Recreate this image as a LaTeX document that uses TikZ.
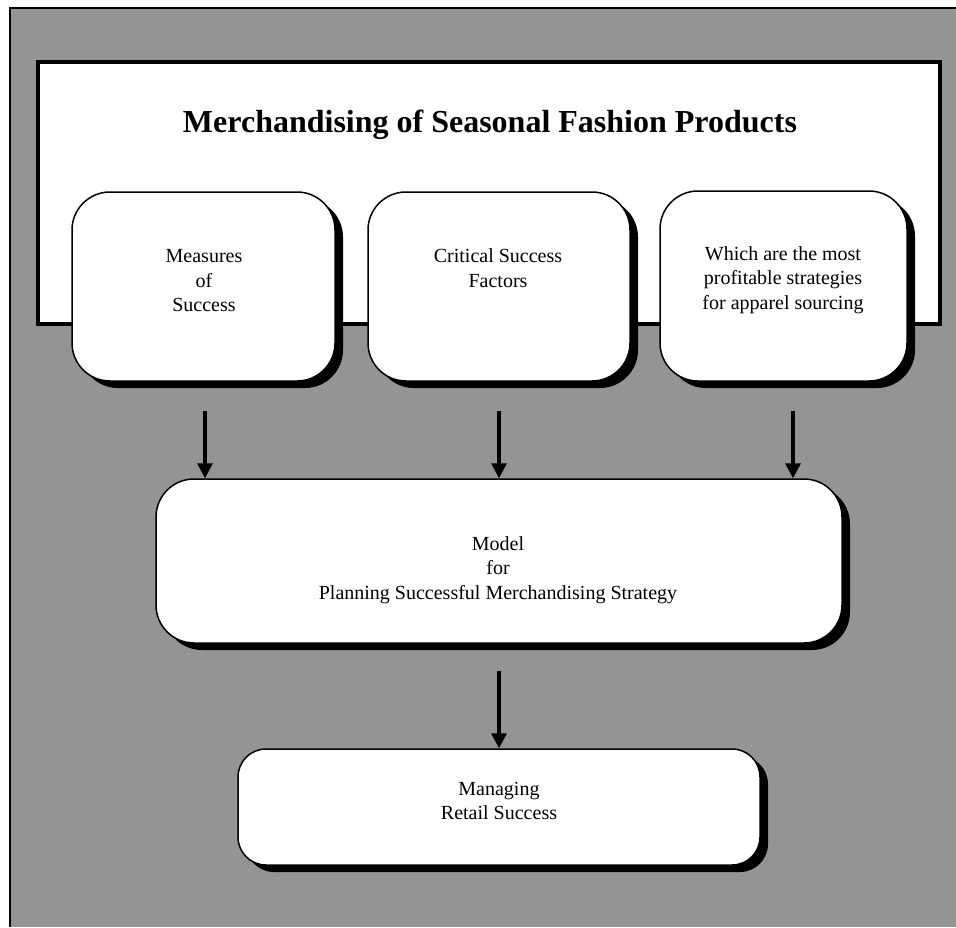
\documentclass[tikz,border=0pt]{standalone}
\usepackage{fontspec}
\setmainfont{Liberation Serif}
\usetikzlibrary{shadows,calc,arrows.meta}
\definecolor{panelgray}{RGB}{148,148,148}
\tikzset{
  roundbox/.style={draw=black, line width=1.5pt, fill=white, rounded corners=38pt,
    drop shadow={shadow xshift=8pt, shadow yshift=-7pt, fill=black, opacity=1},
    inner sep=0pt},
  boxtext/.style={font=\fontsize{20}{24.5}\selectfont, align=center, inner sep=0pt},
  flow/.style={line width=3.4pt, -{Triangle[length=15pt,width=15pt]}},
}
\begin{document}
\begin{tikzpicture}[x=1pt,y=-1pt]
\useasboundingbox (0,0) rectangle (956,927);
% grey panel with its frame on the left and top
\fill[panelgray] (10,8) rectangle (956,927);
\draw[line width=1.8pt] (10,927) -- (10,8) -- (956,8);
% title banner
\node[draw=black, line width=3.2pt, fill=white, minimum width=902pt, minimum height=262pt,
  inner sep=0pt] (banner) at (489,193) {};
\node[font=\fontsize{32}{38}\selectfont\bfseries, inner sep=0pt] (title) at (490,125)
  {Merchandising of Seasonal Fashion Products};
% three question boxes
\node[roundbox, minimum width=263pt, minimum height=189pt] (measures) at (203.5,286.5) {};
\node[roundbox, minimum width=262pt, minimum height=189pt] (factors) at (499,286.5) {};
\node[roundbox, minimum width=247pt, minimum height=190pt] (sourcing) at (783.5,286) {};
\node[boxtext] (measurestxt) at (204,281) {Measures\\of\\Success};
\node[boxtext] (factorstxt) at (498,268) {Critical Success\\Factors};
\node[boxtext] (sourcingtxt) at (783,280) {Which are the most\\profitable strategies\\for apparel sourcing};
% planning model
\node[roundbox, minimum width=686pt, minimum height=164pt] (model) at (499,561) {};
\node[boxtext] (modeltxt) at (498,570) {Model\\for\\Planning Successful Merchandising Strategy};
% retail outcome
\node[roundbox, rounded corners=28pt, minimum width=522pt, minimum height=116pt] (retail) at (499,807) {};
\node[boxtext] (retailtxt) at (499,801) {Managing\\Retail Success};
% arrows
\draw[flow, shorten <=29pt] (measures.south) ++(1.5,0) coordinate (a1) (a1) -- (a1 |- model.north);
\draw[flow, shorten <=29pt] (factors.south) -- (factors.south |- model.north);
\draw[flow, shorten <=29pt] (sourcing.south) ++(9.5,0) coordinate (a3) (a3) -- (a3 |- model.north);
\draw[flow, shorten <=27pt] (model.south) -- (retail.north);
\end{tikzpicture}
\end{document}
